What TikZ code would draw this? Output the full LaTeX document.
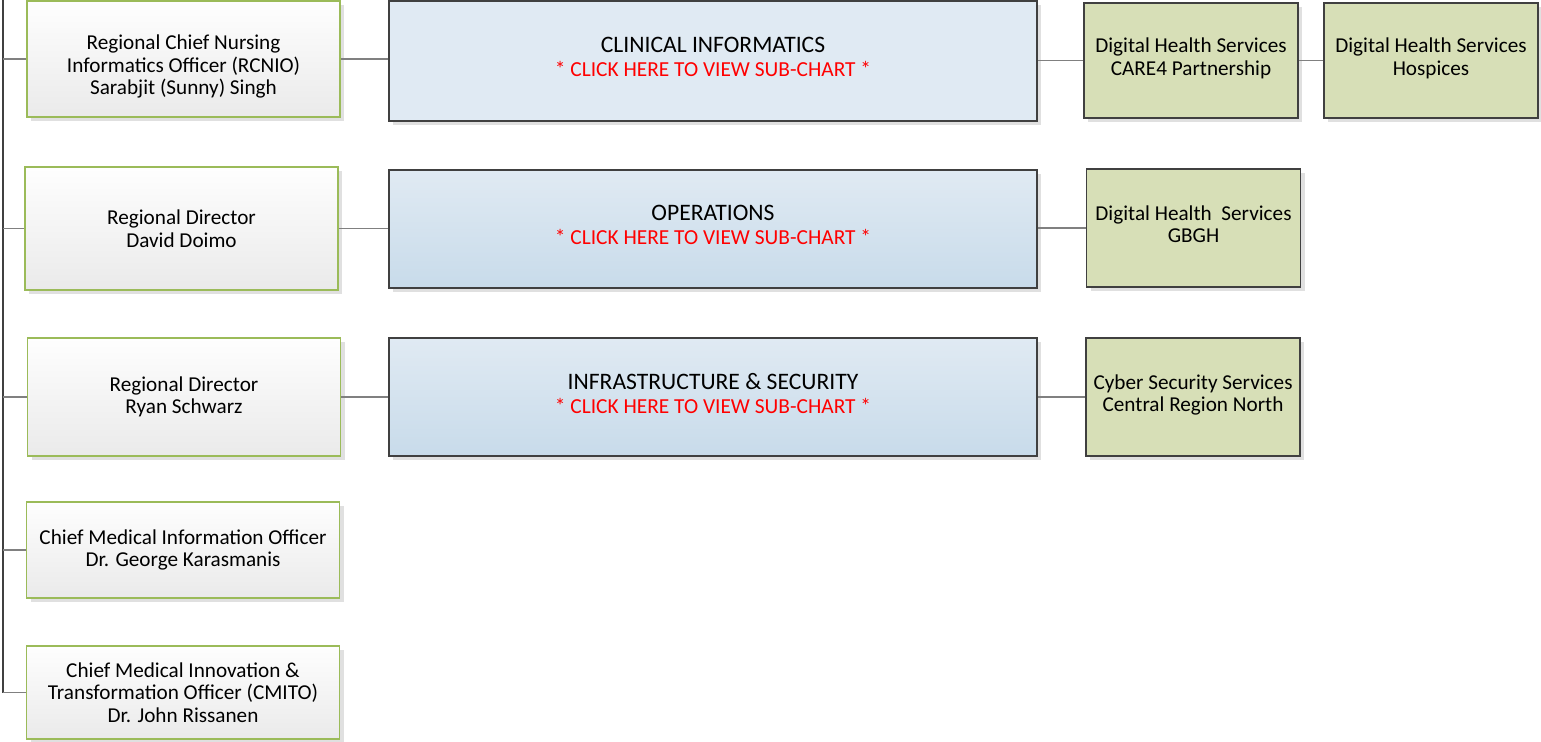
\documentclass[tikz,border=0pt]{standalone}
\usepackage{fontspec}
\setmainfont{Carlito}
\usetikzlibrary{shadows}
\definecolor{olivebd}{RGB}{155,187,89}
\definecolor{darkbd}{RGB}{64,64,64}
\definecolor{linegray}{RGB}{128,128,128}
\definecolor{bluetop}{RGB}{224,234,243}
\definecolor{bluebot}{RGB}{200,219,234}
\definecolor{greenfill}{RGB}{215,223,183}
\definecolor{graytop}{RGB}{254,254,254}
\definecolor{graybot}{RGB}{234,234,234}
\newcommand{\ttlfont}{\fontsize{11.8}{13.5}\selectfont}
\newcommand{\clkfont}{\fontsize{10.7}{13.8}\selectfont\color{red}}
% struts to nudge a text block up or down in its box
\newcommand{\liftup}{\rule[-4pt]{0pt}{0pt}}
\newcommand{\pushdown}{\rule{0pt}{15pt}}

\begin{document}
\begin{tikzpicture}
                [x=0.5pt, y=-0.5pt,
                shsty/.style={drop shadow={shadow xshift=2pt, shadow yshift=-2pt, fill=black!12, opacity=1}},
                lsty/.style={rectangle, draw=olivebd, line width=0.75pt, top color=graytop, bottom color=graybot, shsty,
                             minimum width=156.5pt, align=center, inner sep=0pt, font=\fontsize{10.6}{11.3}\selectfont},
                msty/.style={rectangle, draw=darkbd, line width=1pt, top color=bluetop, bottom color=bluebot, shsty,
                             minimum width=324pt, minimum height=59pt, align=center, inner sep=0pt},
                gsty/.style={rectangle, draw=darkbd, line width=0.75pt, fill=greenfill, shsty,
                             minimum width=107pt, minimum height=57.5pt, align=center, inner sep=0pt, font=\fontsize{10.6}{11.3}\selectfont},
                csty/.style={draw=linegray, line width=0.75pt},
                tsty/.style={draw=darkbd, line width=1pt}]
                \useasboundingbox (0,0) rectangle (1541,742);
                % left column
                \node[lsty, minimum height=58pt]   (r1) at (183.5,59)  {\pushdown Regional Chief Nursing\\Informatics Officer (RCNIO)\\Sarabjit (Sunny) Singh};
                \node[lsty, minimum height=61.5pt] (r2) at (181.5,228.5) {Regional Director\\David Doimo};
                \node[lsty, minimum height=59pt]   (r3) at (184,397)  {Regional Director\\Ryan Schwarz};
                \node[lsty, minimum height=48pt]   (r4) at (183,550)  {Chief Medical Information Officer\\Dr. George Karasmanis};
                \node[lsty, minimum height=46.5pt] (r5) at (183,692.5) {Chief Medical Innovation \&\\Transformation Officer (CMITO)\\Dr. John Rissanen};
                % departments
                \node[msty, top color=bluetop, bottom color=bluetop, minimum height=60pt] (m1) at (713,61)
                    {{\ttlfont CLINICAL INFORMATICS}\\{\clkfont * CLICK HERE TO VIEW SUB-CHART *}\liftup};
                \node[msty] (m2) at (713,229) {{\ttlfont OPERATIONS}\\{\clkfont * CLICK HERE TO VIEW SUB-CHART *}\liftup};
                \node[msty] (m3) at (713,397) {{\ttlfont INFRASTRUCTURE \& SECURITY}\\{\clkfont * CLICK HERE TO VIEW SUB-CHART *}\liftup};
                % services
                \node[gsty] (g1) at (1191,60.5)  {Digital Health Services\\CARE4 Partnership\liftup};
                \node[gsty] (g2) at (1431,60.5)  {Digital Health Services\\Hospices\liftup};
                \node[gsty, minimum height=59pt] (g3) at (1193.5,228) {Digital Health\ \ Services\\GBGH\liftup};
                \node[gsty, minimum height=59pt] (g4) at (1193,397)   {Cyber Security Services\\Central Region North\liftup};
                % trunk and branches
                \coordinate (trunk) at (3,0);
                \draw[tsty] (trunk) -- (trunk |- r5.west);
                \foreach \n in {r1,r2,r3,r4,r5}
                    \draw[csty] (trunk |- \n.west) -- (\n.west);
                \draw[csty] (r1.east) -- (r1.east -| m1.west);
                \draw[csty] (r2.east) -- (r2.east -| m2.west);
                \draw[csty] (r3.east) -- (r3.east -| m3.west);
                \draw[csty] (m1.east |- g1.west) -- (g1.west);
                \draw[csty] (g1.east) -- (g2.west);
                \draw[csty] (m2.east |- g3.west) -- (g3.west);
                \draw[csty] (m3.east) -- (m3.east -| g4.west);
\end{tikzpicture}
\end{document}
